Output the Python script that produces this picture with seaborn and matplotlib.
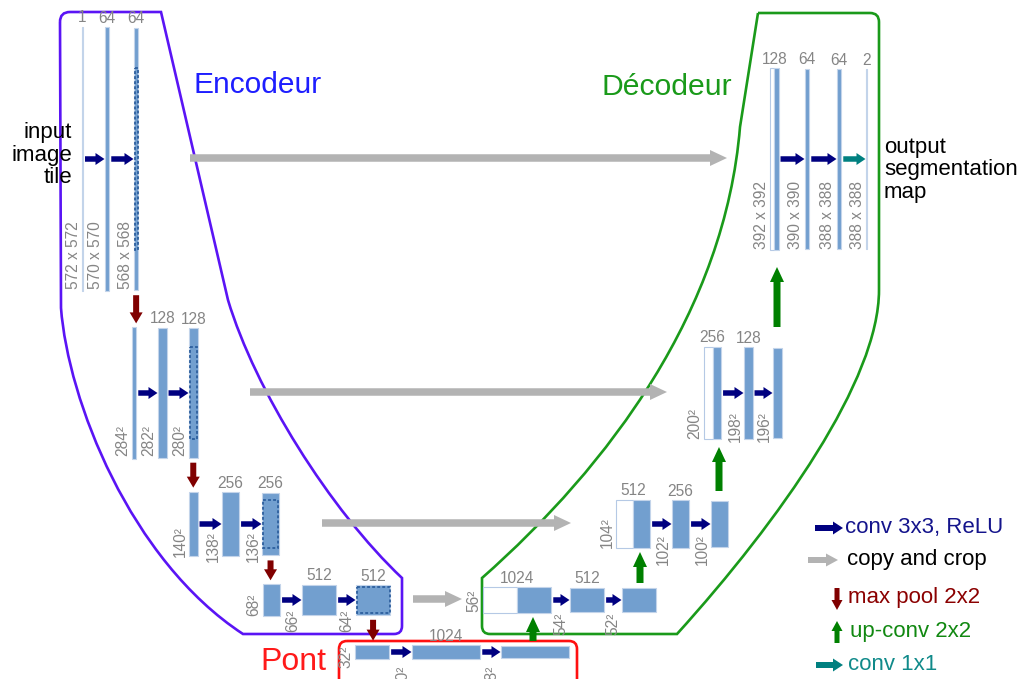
import matplotlib
matplotlib.use("Agg")
import matplotlib.pyplot as plt
import seaborn as sns
from matplotlib.patches import Rectangle, FancyArrow, FancyBboxPatch, PathPatch
from matplotlib.path import Path

# ---------------- data ----------------
enc_channels = [[1, 64, 64], [64, 128, 128], [128, 256, 256], [256, 512, 512]]
enc_sizes = [[572, 570, 568], [284, 282, 280], [140, 138, 136], [68, 66, 64]]
enc_labels = [["1", "64", "64"], ["", "128", "128"], ["", "256", "256"], ["", "512", "512"]]
crop_sizes = [392, 200, 104, 56]

bridge_channels = [512, 1024, 1024]
bridge_sizes = [32, 30, 28]
bridge_labels = ["", "1024", ""]

# decoder levels listed from bottom to top; first entry of each is the concat (copy + up-conv)
dec_channels = [[512, 512, 512], [256, 256, 256], [128, 128, 128], [64, 64, 64, 2]]
dec_sizes = [[56, 54, 52], [104, 102, 100], [200, 198, 196], [392, 390, 388, 388]]
dec_labels = [["1024", "512", ""], ["512", "256", ""], ["256", "128", ""], ["128", "64", "64", "2"]]

legend_items = ["conv 3x3, ReLU", "copy and crop", "max pool 2x2", "up-conv 2x2", "conv 1x1"]

# ---------------- layout ----------------
enc_x = [[82, 105, 134], [132, 158, 189], [189, 222, 262], [263, 302, 356]]
enc_y = [159, 393, 524, 600]
enc_lab_bottom = [[289, 289, 289], [456, 456, 456], [557, 562, 562], [616, 632, 632]]
bridge_x = [355, 412, 501]
bridge_y = 652
bridge_lab_bottom = [668, 688, 688]
dec_x = [[483, 570, 622], [616, 672, 711], [704, 744, 773], [770, 805, 837, 866]]
dec_y = [600, 524, 393, 159]
dec_lab_bottom = [[612, 635, 635], [548, 565, 565], [439, 442, 442], [249, 249, 249, 249]]
copy_x = [(190, 727), (250, 667), (322, 571), (413, 462)]
up_xy = [(533, 641, 617), (640, 583, 552), (719, 491, 447), (777, 327, 267)]

PX_PER_SIZE = 0.462
PX_PER_CH = 1 / 15

BLUE = "#729fcf"
EDGE = "#c3d4ea"
GRAY_TXT = "#858585"
NAVY = "#000080"
COPY = "#b3b3b3"
POOL = "#800000"
UP = "#008000"
TEAL = "#008080"

sns.set_theme(style="white")
plt.rcParams['font.family'] = ['Liberation Sans', 'DejaVu Sans']

fig = plt.figure(figsize=(10.24, 6.79), dpi=100)
ax = fig.add_axes([0, 0, 1, 1])
ax.set_xlim(0, 1024)
ax.set_ylim(679, 0)
ax.axis("off")


def bar(x, yc, ch, size, face=BLUE, edge=EDGE):
    w = max(ch * PX_PER_CH, 1.0)
    h = size * PX_PER_SIZE
    ax.add_patch(Rectangle((x, yc - h / 2), w, h, facecolor=face, edgecolor=edge, lw=0.8, zorder=3))
    return w, h


def arrow(x0, y0, x1, y1, color, w, hw, hl):
    ax.add_patch(FancyArrow(x0, y0, x1 - x0, y1 - y0, width=w, head_width=hw, head_length=hl,
                            length_includes_head=True, facecolor=color, edgecolor="none", lw=0, zorder=4))


def ch_label(cx, top, s):
    if s:
        ax.text(cx, top - 1.5, s, ha="center", va="bottom", fontsize=11.2, color=GRAY_TXT)


def size_label(x, bottom, s):
    ax.text(x - 1.5, bottom, s, rotation=90, ha="right", va="bottom", fontsize=11.2, color=GRAY_TXT)


def conv_arrow(x0, x1, y, color=NAVY):
    arrow(x0 + 2, y, x1 - 0.5, y, color, 5.5, 12, 9)


# ---------------- encoder ----------------
for lvl in range(4):
    yc = enc_y[lvl]
    rights = []
    for i, (ch, sz) in enumerate(zip(enc_channels[lvl], enc_sizes[lvl])):
        x = enc_x[lvl][i]
        w, h = bar(x, yc, ch, sz)
        rights.append(x + w)
        ch_label(x + w / 2, yc - h / 2, enc_labels[lvl][i])
        s = f"{sz} x {sz}" if lvl == 0 else f"{sz}\u00b2"
        size_label(x, enc_lab_bottom[lvl][i], s)
        if i > 0:
            conv_arrow(rights[i - 1], x, yc)
    # crop box
    x = enc_x[lvl][-1]
    w = enc_channels[lvl][-1] * PX_PER_CH
    ch_ = crop_sizes[lvl] * PX_PER_SIZE
    ax.add_patch(Rectangle((x + 0.6, yc - ch_ / 2), w - 1.2, ch_, fill=False, edgecolor="#2d5f9e",
                           lw=1.3, ls=(0, (1.6, 1.2)), zorder=5))
    # max pool
    cx = x + w / 2
    bottom = yc + enc_sizes[lvl][-1] * PX_PER_SIZE / 2
    if lvl < 3:
        next_top = enc_y[lvl + 1] - enc_sizes[lvl + 1][0] * PX_PER_SIZE / 2
    else:
        next_top = bridge_y - bridge_sizes[0] * PX_PER_SIZE / 2
    arrow(cx, bottom + 5, cx, next_top - 4, POOL, 6, 13, 11)

# ---------------- bridge ----------------
rights = []
for i, (ch, sz) in enumerate(zip(bridge_channels, bridge_sizes)):
    x = bridge_x[i]
    w, h = bar(x, bridge_y, ch, sz)
    rights.append(x + w)
    ch_label(x + w / 2, bridge_y - h / 2, bridge_labels[i])
    size_label(x, bridge_lab_bottom[i], f"{sz}\u00b2")
    if i > 0:
        conv_arrow(rights[i - 1], x, bridge_y)

# ---------------- decoder ----------------
for lvl in range(4):
    yc = dec_y[lvl]
    rights = []
    for i, (ch, sz) in enumerate(zip(dec_channels[lvl], dec_sizes[lvl])):
        x = dec_x[lvl][i]
        if i == 0:
            w, h = bar(x, yc, ch, sz, face="white", edge="#b5c9e5")
            w2, _ = bar(x + w, yc, ch, sz)
            rights.append(x + w + w2)
            ch_label(x + (w + w2) / 2, yc - h / 2, dec_labels[lvl][i])
        else:
            w, h = bar(x, yc, ch, sz)
            rights.append(x + w)
            ch_label(x + w / 2, yc - h / 2, dec_labels[lvl][i])
            color = TEAL if (lvl == 3 and i == 3) else NAVY
            conv_arrow(rights[i - 1], x, yc, color)
        s = f"{sz} x {sz}" if lvl == 3 else f"{sz}\u00b2"
        size_label(x, dec_lab_bottom[lvl][i], s)

# copy & crop arrows
for (x0, x1), yc in zip(copy_x, enc_y):
    arrow(x0, yc - 1, x1, yc - 1, COPY, 7.5, 16, 17)

# up-conv arrows
for (x, y0, y1) in up_xy:
    arrow(x, y0, x, y1, UP, 7, 14, 15)

# ---------------- outlines ----------------
enc_path = Path(
    [(60, 22), (60, 12), (70, 12), (161, 12), (228, 300),
     (255, 390), (330, 510), (402, 578), (402, 626), (402, 634), (394, 634),
     (243, 634), (130, 560), (68, 400), (61, 308), (60, 22)],
    [Path.MOVETO, Path.CURVE3, Path.CURVE3, Path.LINETO, Path.LINETO,
     Path.CURVE4, Path.CURVE4, Path.CURVE4, Path.LINETO, Path.CURVE3, Path.CURVE3,
     Path.LINETO, Path.CURVE4, Path.CURVE4, Path.CURVE4, Path.LINETO])
ax.add_patch(PathPatch(enc_path, fill=False, edgecolor="#5a14f5", lw=1.9, zorder=2))

dec_path = Path(
    [(758, 13), (870, 13), (879, 13), (879, 22), (879, 290),
     (879, 380), (780, 520), (677, 634), (490, 634), (482, 634), (482, 626),
     (482, 578), (610, 465), (725, 310), (740, 127), (758, 13)],
    [Path.MOVETO, Path.LINETO, Path.CURVE3, Path.CURVE3, Path.LINETO,
     Path.CURVE4, Path.CURVE4, Path.CURVE4, Path.LINETO, Path.CURVE3, Path.CURVE3,
     Path.LINETO, Path.CURVE4, Path.CURVE4, Path.CURVE4, Path.LINETO])
ax.add_patch(PathPatch(dec_path, fill=False, edgecolor="#1a9a1a", lw=1.9, zorder=2))

ax.add_patch(FancyBboxPatch((339, 641), 238, 70, boxstyle="round,pad=0,rounding_size=8",
                            fill=False, edgecolor="#ff1010", lw=1.9, zorder=2))

# ---------------- titles ----------------
ax.text(193, 85, "Encodeur", fontsize=21.5, color="#1e1eff", ha="left", va="center")
ax.text(601, 87, "D\u00e9codeur", fontsize=21.7, color="#1a9a1a", ha="left", va="center")
ax.text(260, 662, "Pont", fontsize=23, color="#ff1a1a", ha="left", va="center")

ax.text(72, 155, "input\nimage\ntile", fontsize=16, color="black", ha="right", va="center",
        multialignment="right", linespacing=1.1)
ax.text(884, 170, "output\nsegmentation\nmap", fontsize=16, color="black", ha="left", va="center",
        linespacing=1.1)

# ---------------- legend ----------------
leg_y = [528, 560, 598, 632, 665]
leg_colors = ["#14148c", "black", "#8b0000", "#118811", "#108a8a"]
arrow(815, leg_y[0], 843, leg_y[0], NAVY, 6, 13, 10)
arrow(808, leg_y[1], 838, leg_y[1], COPY, 6, 13, 12)
arrow(837, leg_y[2] - 10, 837, leg_y[2] + 12, POOL, 5, 11, 10)
arrow(837, leg_y[3] + 11, 837, leg_y[3] - 11, UP, 5, 11, 10)
arrow(816, leg_y[4], 843, leg_y[4], TEAL, 6, 13, 10)
leg_tx = [845, 847, 848, 850, 848]
for txt, y, c, x in zip(legend_items, leg_y, leg_colors, leg_tx):
    ax.text(x, y, txt, fontsize=16, color=c, ha="left", va="center")

fig.savefig("out.png", dpi=100)
